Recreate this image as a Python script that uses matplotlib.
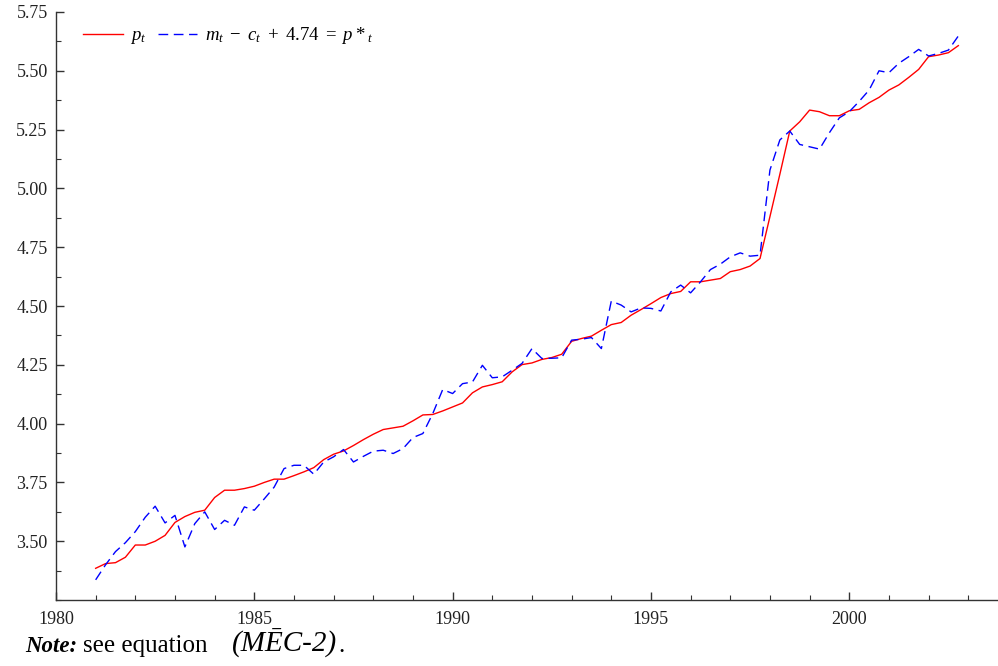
import numpy as np
import matplotlib
matplotlib.use("Agg")
import matplotlib.pyplot as plt
from matplotlib.ticker import MultipleLocator, FormatStrFormatter

plt.rcParams["font.family"] = "serif"
plt.rcParams["font.serif"] = ["Liberation Serif", "DejaVu Serif"]
plt.rcParams["mathtext.fontset"] = "custom"
plt.rcParams["mathtext.rm"] = "Liberation Serif"
plt.rcParams["mathtext.it"] = "Liberation Serif:italic"
plt.rcParams["mathtext.bf"] = "Liberation Serif:bold"

# trimestrale, 1981Q1 .. 2002Q4
start_year = 1981
n_quarters = 88

p_t = [
    3.385, 3.405, 3.409, 3.432,
    3.484, 3.484, 3.500, 3.525,
    3.580, 3.605, 3.623, 3.632,
    3.686, 3.717, 3.717, 3.724,
    3.734, 3.750, 3.764, 3.764,
    3.779, 3.795, 3.813, 3.847,
    3.870, 3.884, 3.907, 3.932,
    3.955, 3.975, 3.982, 3.989,
    4.012, 4.037, 4.039, 4.054,
    4.071, 4.088, 4.131, 4.156,
    4.166, 4.178, 4.220, 4.251,
    4.258, 4.273, 4.281, 4.295,
    4.350, 4.362, 4.372, 4.397,
    4.421, 4.430, 4.461, 4.485,
    4.510, 4.536, 4.553, 4.562,
    4.603, 4.603, 4.610, 4.617,
    4.646, 4.655, 4.670, 4.702,
    4.880, 5.060, 5.244, 5.283,
    5.333, 5.326, 5.309, 5.309,
    5.330, 5.336, 5.364, 5.387,
    5.418, 5.440, 5.472, 5.506,
    5.560, 5.567, 5.577, 5.607,
]

p_star = [
    3.336, 3.400, 3.456, 3.494,
    3.541, 3.602, 3.649, 3.578,
    3.610, 3.476, 3.575, 3.625,
    3.550, 3.589, 3.568, 3.646,
    3.632, 3.680, 3.730, 3.809,
    3.823, 3.823, 3.785, 3.837,
    3.859, 3.890, 3.837, 3.861,
    3.883, 3.887, 3.873, 3.894,
    3.941, 3.958, 4.043, 4.145,
    4.128, 4.170, 4.177, 4.248,
    4.195, 4.199, 4.227, 4.256,
    4.319, 4.277, 4.278, 4.280,
    4.355, 4.359, 4.366, 4.319,
    4.521, 4.504, 4.475, 4.492,
    4.490, 4.479, 4.560, 4.589,
    4.556, 4.603, 4.655, 4.678,
    4.709, 4.726, 4.712, 4.716,
    5.078, 5.206, 5.244, 5.187,
    5.177, 5.167, 5.237, 5.300,
    5.326, 5.370, 5.418, 5.500,
    5.492, 5.532, 5.560, 5.591,
    5.563, 5.574, 5.588, 5.648,
]

years = start_year + np.arange(n_quarters) / 4.0

AXC = "#333333"

fig = plt.figure(figsize=(9.98, 6.66), dpi=100, facecolor="white")
ax = fig.add_axes([0.0561, 0.099, 0.9439, 0.883])

ax.plot(years, p_t, color="red", lw=1.0, label=r"$p_t$")
ax.plot(years, p_star, color="blue", lw=1.0, dashes=(7, 4),
        label=r"$m_t\ -\ c_t\ +\ 4.74\ =\ p*_t$")

ax.set_xlim(1980, 2003.75)
ax.set_ylim(3.25, 5.75)
ax.xaxis.set_major_locator(MultipleLocator(5))
ax.xaxis.set_minor_locator(MultipleLocator(1))
ax.yaxis.set_minor_locator(MultipleLocator(0.125))
ax.set_yticks([3.5, 3.75, 4.0, 4.25, 4.5, 4.75, 5.0, 5.25, 5.5, 5.75])
ax.yaxis.set_major_formatter(FormatStrFormatter("%.2f"))

ax.tick_params(which="both", direction="in", colors=AXC, labelcolor="#222222",
               labelsize=13)
ax.tick_params(which="major", length=6, width=1.0, pad=6)
ax.tick_params(axis="x", which="major", pad=8)
ax.tick_params(which="minor", length=3.5, width=0.8)
for s in ("top", "right"):
    ax.spines[s].set_visible(False)
for s in ("left", "bottom"):
    ax.spines[s].set_color(AXC)
    ax.spines[s].set_linewidth(1.0)

ax.legend(loc="upper left", ncol=2, frameon=False, fontsize=13.5,
          handlelength=2.1, columnspacing=0.6, handletextpad=0.4,
          bbox_to_anchor=(0.021, 0.99), borderaxespad=0.0)

# nota sotto il grafico, pezzi con stili diversi messi in fila
fig.canvas.draw()
r = fig.canvas.get_renderer()
x = 25 / 998
y = 1 - 652 / 666
pieces = [("Note:", dict(fontweight="bold", fontstyle="italic", fontsize=16.5), 6),
          ("see equation", dict(fontsize=18), 24),
          ("(MĒC-2)", dict(fontstyle="italic", fontsize=21), 1),
          (".", dict(fontsize=18), 0)]
for txt, kw, gap in pieces:
    t = fig.text(x, y, txt, ha="left", va="baseline", color="black", **kw)
    bb = t.get_window_extent(renderer=r)
    x = (bb.x1 + gap) / fig.bbox.width

fig.savefig("out.png", dpi=100, facecolor="white")
